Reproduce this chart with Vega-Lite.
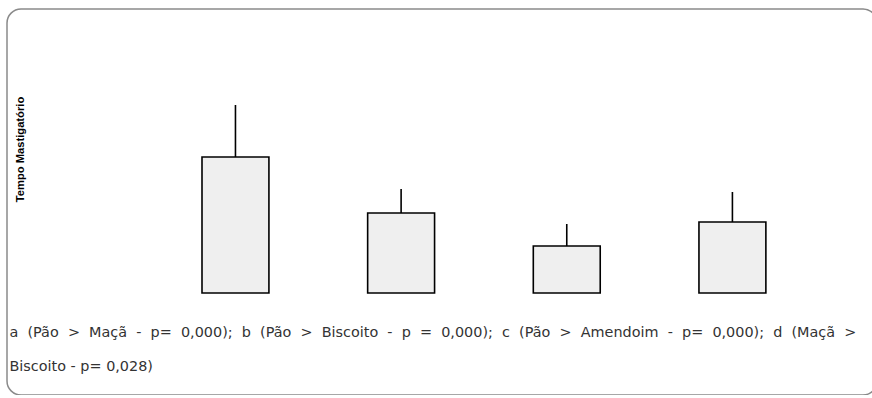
{
  "$schema": "https://vega.github.io/schema/vega-lite/v6.json",
  "width": 870,
  "height": 386,
  "padding": {"left": 7, "top": 9, "right": 0, "bottom": 0},
  "background": "white",
  "config": {
    "view": {"stroke": "#8a8a8a", "strokeWidth": 1.5, "cornerRadius": 14}
  },
  "data": {
    "values": [
      {"alimento": "Pão", "media": 34, "superior": 47},
      {"alimento": "Maçã", "media": 20, "superior": 26},
      {"alimento": "Biscoito", "media": 11.75, "superior": 17.25},
      {"alimento": "Amendoim", "media": 17.75, "superior": 25.25}
    ]
  },
  "encoding": {
    "x": {
      "field": "alimento",
      "type": "nominal",
      "sort": null,
      "scale": {"paddingInner": 0.596, "paddingOuter": 0.924, "align": 0.637, "round": false},
      "axis": {
        "domain": false, "ticks": false, "labels": false, "grid": false,
        "title": ["a\u2007(Pão\u2007>\u2007Maçã\u2007-\u2007p=\u20070,000);\u2007b\u2007(Pão\u2007>\u2007Biscoito\u2007-\u2007p\u2007=\u20070,000);\u2007c\u2007(Pão\u2007>\u2007Amendoim\u2007-\u2007p=\u20070,000);\u2007d\u2007(Maçã\u2007>", "Biscoito - p= 0,028)"],
        "titleFont": "DejaVu Sans", "titleFontSize": 14.4, "titleFontWeight": "normal", "titleColor": "#333333",
        "titleAlign": "left", "titleAnchor": "start", "titleBaseline": "middle",
        "titleX": 2, "titleY": -63, "titleLineHeight": 34
      }
    }
  },
  "layer": [
    {
      "mark": {"type": "bar", "fill": "#efefef", "stroke": "black", "strokeWidth": 1.6},
      "encoding": {
        "y": {
          "field": "media", "type": "quantitative",
          "scale": {"domain": [-25.5, 71], "nice": false, "zero": false},
          "axis": {
            "domain": false, "ticks": false, "labels": false, "grid": false,
            "title": "Tempo Mastigatório",
            "titleFont": "Liberation Sans", "titleFontSize": 11.2, "titleFontWeight": "bold", "titleColor": "black",
            "titleAngle": -90, "titleAlign": "center", "titleBaseline": "middle",
            "titleX": 13, "titleY": 140
          }
        }
      }
    },
    {
      "mark": {"type": "rule", "stroke": "black", "strokeWidth": 1.6},
      "encoding": {
        "y": {"field": "media", "type": "quantitative"},
        "y2": {"field": "superior"}
      }
    }
  ]
}
